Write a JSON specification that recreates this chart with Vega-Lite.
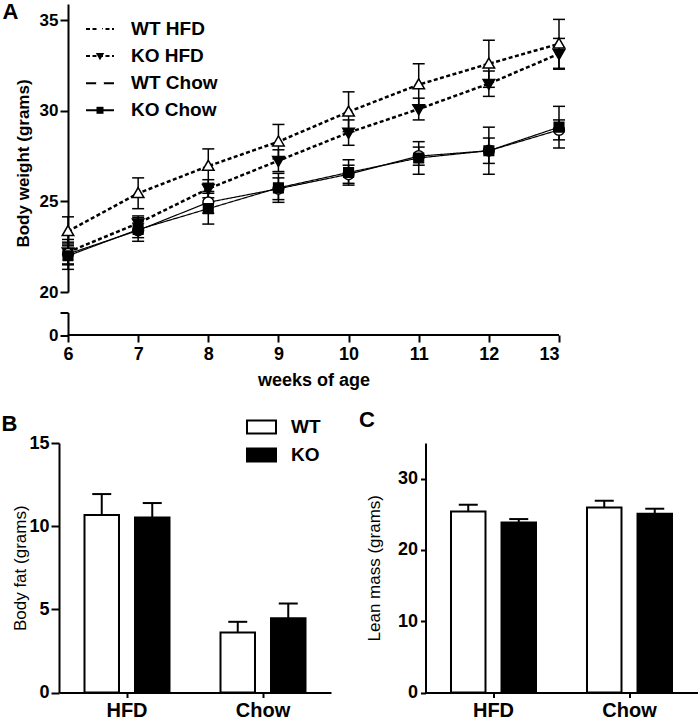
{
  "$schema": "https://vega.github.io/schema/vega-lite/v6.json",
  "padding": {"left": 1, "top": 1, "right": 0, "bottom": 0},
  "config": {
    "font": "Liberation Sans",
    "view": {"stroke": null},
    "axis": {
      "domainColor": "black", "domainWidth": 2, "tickColor": "black", "tickWidth": 2,
      "labelColor": "black", "labelFont": "Liberation Sans", "labelFontWeight": "bold",
      "titleColor": "black", "titleFont": "Liberation Sans", "grid": false
    },
    "legend": {"labelFont": "Liberation Sans", "labelColor": "black"},
    "title": {"font": "Liberation Sans", "color": "black", "fontWeight": "bold", "fontSize": 22, "anchor": "start", "frame": "bounds"}
  },
  "datasets": {
    "growth": [
      {"series": "WT HFD", "week": 6, "mean": 23.35, "lo": 22.55, "hi": 24.15},
      {"series": "WT HFD", "week": 7, "mean": 25.45, "lo": 24.6, "hi": 26.3},
      {"series": "WT HFD", "week": 8, "mean": 26.95, "lo": 26.0, "hi": 27.9},
      {"series": "WT HFD", "week": 9, "mean": 28.3, "lo": 27.35, "hi": 29.25},
      {"series": "WT HFD", "week": 10, "mean": 29.95, "lo": 28.85, "hi": 31.05},
      {"series": "WT HFD", "week": 11, "mean": 31.45, "lo": 30.3, "hi": 32.6},
      {"series": "WT HFD", "week": 12, "mean": 32.6, "lo": 31.3, "hi": 33.9},
      {"series": "WT HFD", "week": 13, "mean": 33.7, "lo": 32.35, "hi": 35.05},
      {"series": "KO HFD", "week": 6, "mean": 22.2, "lo": 21.5, "hi": 22.9},
      {"series": "KO HFD", "week": 7, "mean": 23.8, "lo": 23.4, "hi": 24.2},
      {"series": "KO HFD", "week": 8, "mean": 25.7, "lo": 25.2, "hi": 26.2},
      {"series": "KO HFD", "week": 9, "mean": 27.25, "lo": 26.65, "hi": 27.85},
      {"series": "KO HFD", "week": 10, "mean": 28.8, "lo": 28.1, "hi": 29.5},
      {"series": "KO HFD", "week": 11, "mean": 30.1, "lo": 29.5, "hi": 30.7},
      {"series": "KO HFD", "week": 12, "mean": 31.5, "lo": 30.8, "hi": 32.2},
      {"series": "KO HFD", "week": 13, "mean": 33.15, "lo": 32.3, "hi": 34.0},
      {"series": "WT Chow", "week": 6, "mean": 22.1, "lo": 21.55, "hi": 22.65},
      {"series": "WT Chow", "week": 7, "mean": 23.4, "lo": 23.0, "hi": 23.8},
      {"series": "WT Chow", "week": 8, "mean": 24.95, "lo": 24.35, "hi": 25.55},
      {"series": "WT Chow", "week": 9, "mean": 25.7, "lo": 25.1, "hi": 26.3},
      {"series": "WT Chow", "week": 10, "mean": 26.5, "lo": 26.0, "hi": 27.0},
      {"series": "WT Chow", "week": 11, "mean": 27.5, "lo": 27.0, "hi": 28.0},
      {"series": "WT Chow", "week": 12, "mean": 27.8, "lo": 27.1, "hi": 28.5},
      {"series": "WT Chow", "week": 13, "mean": 28.95, "lo": 28.4, "hi": 29.5},
      {"series": "KO Chow", "week": 6, "mean": 22.0, "lo": 21.25, "hi": 22.75},
      {"series": "KO Chow", "week": 7, "mean": 23.45, "lo": 22.8, "hi": 24.1},
      {"series": "KO Chow", "week": 8, "mean": 24.6, "lo": 23.75, "hi": 25.45},
      {"series": "KO Chow", "week": 9, "mean": 25.75, "lo": 24.95, "hi": 26.55},
      {"series": "KO Chow", "week": 10, "mean": 26.6, "lo": 25.9, "hi": 27.3},
      {"series": "KO Chow", "week": 11, "mean": 27.4, "lo": 26.5, "hi": 28.3},
      {"series": "KO Chow", "week": 12, "mean": 27.8, "lo": 26.5, "hi": 29.1},
      {"series": "KO Chow", "week": 13, "mean": 29.1, "lo": 27.95, "hi": 30.25}
    ],
    "fat": [
      {"diet": "HFD", "genotype": "WT", "mean": 10.67, "hi": 11.93},
      {"diet": "HFD", "genotype": "KO", "mean": 10.52, "hi": 11.39},
      {"diet": "Chow", "genotype": "WT", "mean": 3.61, "hi": 4.25},
      {"diet": "Chow", "genotype": "KO", "mean": 4.47, "hi": 5.35}
    ],
    "lean": [
      {"diet": "HFD", "genotype": "WT", "mean": 25.4, "hi": 26.34},
      {"diet": "HFD", "genotype": "KO", "mean": 23.86, "hi": 24.33},
      {"diet": "Chow", "genotype": "WT", "mean": 25.96, "hi": 26.9},
      {"diet": "Chow", "genotype": "KO", "mean": 25.08, "hi": 25.78}
    ]
  },
  "resolve": {"scale": {"fill": "independent", "shape": "independent", "strokeDash": "independent", "xOffset": "independent"}},
  "spacing": 20,
  "vconcat": [
    {
      "bounds": "flush",
      "spacing": 20.5,
      "vconcat": [
        {
          "width": 500, "height": 288,
          "title": {"text": "A", "dx": -12, "dy": 20, "offset": 0},
          "data": {"name": "growth"},
          "encoding": {
            "x": {"field": "week", "type": "quantitative", "scale": {"domain": [5.8717, 13], "nice": false, "zero": false}, "axis": null}
          },
          "layer": [
            {
              "mark": {"type": "rule", "color": "black", "strokeWidth": 1.5},
              "encoding": {
                "y": {"field": "lo", "type": "quantitative"},
                "y2": {"field": "hi"},
                "detail": {"field": "series"}
              }
            },
            {
              "mark": {"type": "tick", "orient": "horizontal", "color": "black", "size": 12, "thickness": 1.5, "opacity": 1},
              "encoding": {"y": {"field": "lo", "type": "quantitative"}}
            },
            {
              "mark": {"type": "tick", "orient": "horizontal", "color": "black", "size": 12, "thickness": 1.5, "opacity": 1},
              "encoding": {"y": {"field": "hi", "type": "quantitative"}}
            },
            {
              "mark": {"type": "line", "color": "black"},
              "encoding": {
                "y": {"field": "mean", "type": "quantitative"},
                "strokeDash": {
                  "field": "series", "type": "nominal",
                  "scale": {"domain": ["KO Chow", "WT Chow", "KO HFD", "WT HFD"], "range": [[1, 0], [1, 0], [4, 2.5], [4, 2.5]]},
                  "legend": {"orient": "none", "legendX": 26, "legendY": 10, "title": null, "values": ["WT HFD", "KO HFD", "WT Chow", "KO Chow"], "symbolType": "stroke", "symbolSize": 784, "symbolStrokeColor": "black", "symbolStrokeWidth": 2, "labelFontSize": 19, "labelFontWeight": "bold", "labelOffset": 16, "rowPadding": 2.1}
                },
                "strokeWidth": {"condition": {"test": "indexof(datum.series, 'HFD') > 0", "value": 2.5}, "value": 1.2}
              }
            },
            {
              "mark": {"type": "point", "filled": true, "stroke": "black", "strokeWidth": 1.5, "size": 1480, "opacity": 1},
              "encoding": {
                "y": {"field": "mean", "type": "quantitative", "scale": {"domain": [20, 35.9], "nice": false, "zero": false},
                  "axis": {"values": [20, 25, 30, 35], "offset": -9, "labelFontSize": 17, "tickSize": 8, "labelPadding": 2, "minExtent": 30, "maxExtent": 30, "title": "Body weight (grams)", "titleFontSize": 17, "titleFontWeight": "bold", "titleY": 159, "titlePadding": 5.5}},
                "shape": {
                  "field": "series", "type": "nominal",
                  "scale": {"domain": ["WT HFD", "KO HFD", "WT Chow", "KO Chow"], "range": [
                    "M0,-0.3L0.3,0.22L-0.3,0.22Z",
                    "M0,0.3L0.3,-0.22L-0.3,-0.22Z",
                    "M-0.28,0A0.28,0.28 0 1,0 0.28,0A0.28,0.28 0 1,0 -0.28,0Z",
                    "M-0.25,-0.25H0.25V0.25H-0.25Z"
                  ]},
                  "legend": {"orient": "none", "legendX": 26, "legendY": 10, "title": null, "symbolSize": 784, "symbolStrokeColor": "black", "symbolStrokeWidth": 1.5, "labelFontSize": 19, "labelFontWeight": "bold", "labelOffset": 16, "labelOpacity": 0, "rowPadding": 2.1}
                },
                "fill": {
                  "field": "series", "type": "nominal",
                  "scale": {"domain": ["WT HFD", "KO HFD", "WT Chow", "KO Chow"], "range": ["white", "black", "white", "black"]},
                  "legend": {"orient": "none", "legendX": 26, "legendY": 10, "title": null, "symbolSize": 784, "symbolStrokeColor": "black", "symbolStrokeWidth": 1.5, "labelFontSize": 19, "labelFontWeight": "bold", "labelOffset": 16, "labelOpacity": 0, "rowPadding": 2.1}
                }
              }
            }
          ]
        },
        {
          "width": 500, "height": 22.5,
          "data": {"name": "growth"},
          "encoding": {
            "x": {"field": "week", "type": "quantitative", "scale": {"domain": [5.8717, 13], "nice": false, "zero": false},
              "axis": {"values": [6, 7, 8, 9, 10, 11, 12, 13], "domain": false, "labelFontSize": 18, "tickSize": 7, "labelPadding": 3, "title": "weeks of age", "titleFontSize": 18, "titleFontWeight": "bold", "titlePadding": 8, "titleX": 254.5}}
          },
          "layer": [
            {
              "mark": {"type": "point", "opacity": 0},
              "encoding": {
                "y": {"datum": 0, "type": "quantitative", "scale": {"domain": [0, 1.25], "nice": false},
                  "axis": {"values": [0, 1.25], "offset": -9, "labelExpr": "datum.value == 0 ? '0' : ''", "labelFontSize": 17, "tickSize": 8, "labelPadding": 2, "minExtent": 30, "maxExtent": 30, "title": null}}
              }
            },
            {
              "mark": {"type": "rule", "color": "black", "strokeWidth": 2},
              "encoding": {
                "x": {"datum": 6, "type": "quantitative"},
                "x2": {"datum": 13},
                "y": {"datum": 0, "type": "quantitative"}
              }
            }
          ]
        }
      ]
    },
    {
      "spacing": 27.5,
      "resolve": {"scale": {"fill": "independent"}},
      "hconcat": [
        {
          "width": 272, "height": 249.5,
          "title": {"text": "B", "dx": -10, "dy": 24.5, "offset": 0},
          "data": {"name": "fat"},
          "encoding": {
            "x": {"field": "diet", "type": "nominal", "sort": ["HFD", "Chow"], "scale": {"paddingInner": 0.375, "paddingOuter": 0.1875},
              "axis": {"title": null, "labelAngle": 0, "labelFontSize": 20, "tickSize": 5, "labelPadding": 3}},
            "xOffset": {"field": "genotype", "type": "nominal", "sort": ["WT", "KO"], "scale": {"paddingInner": 0.317, "paddingOuter": 0}}
          },
          "layer": [
            {
              "mark": {"type": "bar", "stroke": "black", "strokeWidth": 2},
              "encoding": {
                "y": {"field": "mean", "type": "quantitative", "scale": {"domain": [0, 15], "nice": false},
                  "axis": {"values": [0, 5, 10, 15], "labelFontSize": 18, "tickSize": 8, "labelPadding": 2, "minExtent": 29, "maxExtent": 29, "title": "Body fat (grams)", "titleFontSize": 17, "titleFontWeight": "normal", "titlePadding": 0.5}},
                "fill": {"field": "genotype", "type": "nominal", "sort": ["WT", "KO"],
                  "scale": {"domain": ["WT", "KO"], "range": ["white", "black"]},
                  "legend": {"orient": "none", "legendX": 187, "legendY": -31.5, "title": null,
                    "symbolType": "M-1,-0.45H1V0.45H-1Z", "symbolSize": 841, "symbolStrokeColor": "black", "symbolStrokeWidth": 2,
                    "labelFontSize": 19, "labelFontWeight": "bold", "labelOffset": 14, "rowPadding": 1}}
              }
            },
            {
              "mark": {"type": "rule", "color": "black", "strokeWidth": 2},
              "encoding": {"y": {"field": "mean", "type": "quantitative"}, "y2": {"field": "hi"}}
            },
            {
              "mark": {"type": "tick", "orient": "horizontal", "color": "black", "size": 19, "thickness": 2, "opacity": 1},
              "encoding": {"y": {"field": "hi", "type": "quantitative"}}
            }
          ]
        },
        {
          "width": 272, "height": 249.5,
          "title": {"text": "C", "dx": -6, "dy": 1, "offset": 12},
          "data": {"name": "lean"},
          "encoding": {
            "x": {"field": "diet", "type": "nominal", "sort": ["HFD", "Chow"], "scale": {"paddingInner": 0.375, "paddingOuter": 0.1875},
              "axis": {"title": null, "labelAngle": 0, "labelFontSize": 20, "tickSize": 5, "labelPadding": 3}},
            "xOffset": {"field": "genotype", "type": "nominal", "sort": ["WT", "KO"], "scale": {"paddingInner": 0.317, "paddingOuter": 0}}
          },
          "layer": [
            {
              "mark": {"type": "bar", "stroke": "black", "strokeWidth": 2},
              "encoding": {
                "y": {"field": "mean", "type": "quantitative", "scale": {"domain": [0, 35], "nice": false},
                  "axis": {"values": [0, 5, 10, 15, 20, 25, 30, 35], "labelFontSize": 18, "tickSize": 5, "labelPadding": 3, "minExtent": 27, "maxExtent": 27, "title": "Lean mass (grams)", "titleFontSize": 17, "titleFontWeight": "normal", "titlePadding": 15.5}},
                "fill": {"field": "genotype", "type": "nominal", "sort": ["WT", "KO"],
                  "scale": {"domain": ["WT", "KO"], "range": ["white", "black"]}, "legend": null}
              }
            },
            {
              "mark": {"type": "rule", "color": "black", "strokeWidth": 2},
              "encoding": {"y": {"field": "mean", "type": "quantitative"}, "y2": {"field": "hi"}}
            },
            {
              "mark": {"type": "tick", "orient": "horizontal", "color": "black", "size": 19, "thickness": 2, "opacity": 1},
              "encoding": {"y": {"field": "hi", "type": "quantitative"}}
            }
          ]
        }
      ]
    }
  ]
}
